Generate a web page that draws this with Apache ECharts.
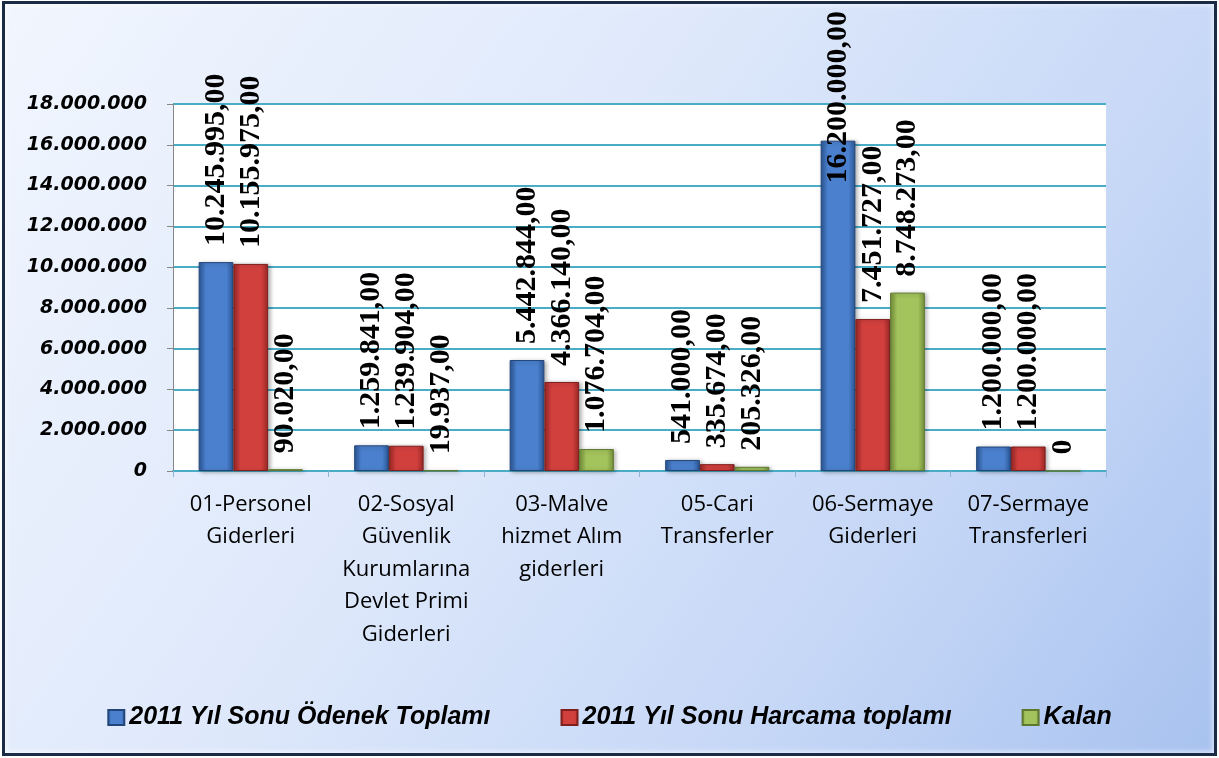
<!DOCTYPE html>
<html>
<head>
<meta charset="utf-8">
<script src="https://cdn.jsdelivr.net/npm/echarts@6/dist/echarts.min.js"></script>
<style>
  html, body { margin: 0; padding: 0; }
  #frame {
    position: absolute; left: 2px; top: 1px; width: 1215px; height: 755px;
    box-sizing: border-box; border: 3px solid #1b2b45;
    background: linear-gradient(125deg, #f1f6fe 0%, #dfe9fb 40%, #c4d6f6 75%, #a8c2ef 100%);
    box-shadow: inset 0 0 6px rgba(255,255,255,0.9);
  }
  #main { position: absolute; left: 0; top: 0; width: 1219px; height: 758px; }
</style>
</head>
<body>
<div id="frame"></div>
<div id="main"></div>
<script>
// kategoriler
var categories = [
    '01-Personel\nGiderleri',
    '02-Sosyal\nGüvenlik\nKurumlarına\nDevlet Primi\nGiderleri',
    '03-Malve\nhizmet Alım\ngiderleri',
    '05-Cari\nTransferler',
    '06-Sermaye\nGiderleri',
    '07-Sermaye\nTransferleri'
];
var seriesNames = ['2011 Yıl Sonu Ödenek Toplamı', '2011 Yıl Sonu Harcama toplamı', 'Kalan'];
var odenek = [10245995, 1259841, 5442844, 541000, 16200000, 1200000];
var harcama = [10155975, 1239904, 4366140, 335674, 7451727, 1200000];
var kalan = [90020, 19937, 1076704, 205326, 8748273, 0];

var LABEL_SIZE = 30;
var LABEL_DIST = 16;
var TOP_LIMIT = 11; // etiketler bu sınırın üstüne taşmasın

function dots(n) {
    return String(n).replace(/\B(?=(\d{3})+(?!\d))/g, '.');
}
function labelText(v) {
    return v === 0 ? '0' : dots(v) + ',00';
}

// bar gradients (bevel look)
function bevel(edge, mid) {
    return new echarts.graphic.LinearGradient(0, 0, 1, 0, [
        { offset: 0, color: edge },
        { offset: 0.2, color: mid },
        { offset: 0.8, color: mid },
        { offset: 1, color: edge }
    ]);
}
var colors = [
    bevel('#2b5696', '#4a80cd'),
    bevel('#9a2826', '#d2403e'),
    bevel('#73903a', '#a3c35c')
];
var borders = ['#23467a', '#7e1f1d', '#5f7830'];

function makeSeries(name, data, i) {
    return {
        name: name,
        type: 'bar',
        data: data,
        barGap: '0%',
        barCategoryGap: '33%',
        itemStyle: {
            color: colors[i],
            borderColor: borders[i],
            borderWidth: 1,
            shadowColor: 'rgba(0,0,0,0.3)',
            shadowBlur: 4,
            shadowOffsetX: 2,
            shadowOffsetY: 1
        },
        label: {
            show: true,
            position: 'top',
            rotate: 90,
            align: 'left',
            verticalAlign: 'middle',
            distance: LABEL_DIST,
            fontFamily: 'Liberation Serif',
            fontWeight: 'bold',
            fontSize: LABEL_SIZE,
            color: '#000',
            formatter: function (p) { return labelText(p.value); }
        }
    };
}

var myChart = echarts.init(document.getElementById('main'));
var option = {
    animation: false,
    backgroundColor: 'transparent',
    grid: {
        left: 173,
        right: 113,
        top: 104,
        bottom: 287,
        show: true,
        backgroundColor: '#ffffff',
        borderWidth: 0
    },
    legend: {
        left: 'center',
        top: 700,
        itemWidth: 16,
        itemHeight: 15,
        itemGap: 70,
        icon: 'rect',
        textStyle: {
            fontFamily: 'Liberation Sans',
            fontWeight: 'bold',
            fontStyle: 'italic',
            fontSize: 25,
            color: '#000'
        },
        data: seriesNames
    },
    xAxis: {
        type: 'category',
        data: categories,
        axisLine: { lineStyle: { color: '#4bacc6', width: 2 } },
        axisTick: { show: true, length: 6, lineStyle: { color: '#8fb5d6' } },
        axisLabel: {
            interval: 0,
            margin: 17,
            fontFamily: 'Open Sans',
            fontSize: 22,
            lineHeight: 32.5,
            color: '#000'
        }
    },
    yAxis: {
        type: 'value',
        min: 0,
        max: 18000000,
        interval: 2000000,
        axisLine: { show: true, lineStyle: { color: '#868686', width: 1 } },
        axisTick: { show: true, length: 6, lineStyle: { color: '#868686' } },
        splitLine: { lineStyle: { color: '#4bacc6', width: 2 } },
        axisLabel: {
            margin: 26,
            fontFamily: 'DejaVu Sans',
            fontWeight: 'bold',
            fontStyle: 'italic',
            fontSize: 19,
            color: '#000',
            formatter: function (v) { return dots(v); }
        }
    },
    series: [
        makeSeries(seriesNames[0], odenek, 0),
        makeSeries(seriesNames[1], harcama, 1),
        makeSeries(seriesNames[2], kalan, 2)
    ]
};
myChart.setOption(option);

// grafik üstüne taşan etiketleri (Excel gibi) içeri kaydır
var ctx = document.createElement('canvas').getContext('2d');
ctx.font = 'bold ' + LABEL_SIZE + 'px "Liberation Serif"';
function clampData(values) {
    return values.map(function (v, i) {
        var top = myChart.convertToPixel({ gridIndex: 0 }, [i, v])[1];
        var len = ctx.measureText(labelText(v)).width;
        var over = TOP_LIMIT - (top - LABEL_DIST - len);
        return over > 0 ? { value: v, label: { offset: [-over, 0] } } : v;
    });
}
myChart.setOption({
    series: [
        { data: clampData(odenek) },
        { data: clampData(harcama) },
        { data: clampData(kalan) }
    ]
});
</script>
</body>
</html>
